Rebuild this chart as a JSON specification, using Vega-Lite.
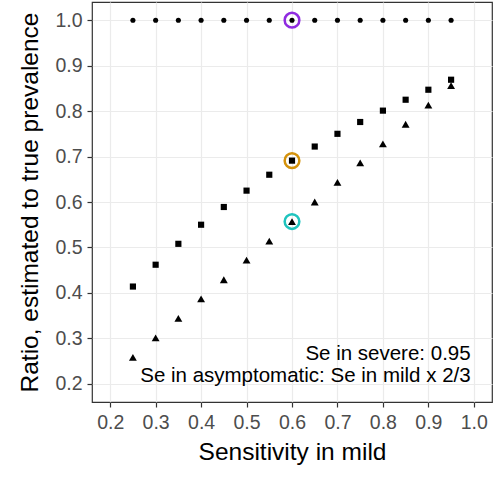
{
  "$schema": "https://vega.github.io/schema/vega-lite/v6.json",
  "width": 400,
  "height": 400,
  "autosize": {"type": "none"},
  "padding": {"left": 92, "top": 2, "right": 6, "bottom": 75},
  "background": "white",
  "config": {
    "view": {"stroke": "#333333", "strokeWidth": 1.2},
    "axis": {
      "grid": true,
      "gridColor": "#EBEBEB",
      "gridWidth": 1.2,
      "domain": false,
      "tickColor": "#333333",
      "tickSize": 5,
      "tickWidth": 1.2,
      "labelFont": "Liberation Sans",
      "labelFontSize": 19.5,
      "labelColor": "#4D4D4D",
      "titleFont": "Liberation Sans",
      "titleFontSize": 24.5,
      "titleFontWeight": "normal",
      "titleColor": "#000000"
    }
  },
  "datasets": {
    "pts": [
      {"x": 0.25, "y": 1.0, "series": "dot"},
      {"x": 0.30, "y": 1.0, "series": "dot"},
      {"x": 0.35, "y": 1.0, "series": "dot"},
      {"x": 0.40, "y": 1.0, "series": "dot"},
      {"x": 0.45, "y": 1.0, "series": "dot"},
      {"x": 0.50, "y": 1.0, "series": "dot"},
      {"x": 0.55, "y": 1.0, "series": "dot"},
      {"x": 0.60, "y": 1.0, "series": "dot"},
      {"x": 0.65, "y": 1.0, "series": "dot"},
      {"x": 0.70, "y": 1.0, "series": "dot"},
      {"x": 0.75, "y": 1.0, "series": "dot"},
      {"x": 0.80, "y": 1.0, "series": "dot"},
      {"x": 0.85, "y": 1.0, "series": "dot"},
      {"x": 0.90, "y": 1.0, "series": "dot"},
      {"x": 0.95, "y": 1.0, "series": "dot"},
      {"x": 0.25, "y": 0.414, "series": "square"},
      {"x": 0.30, "y": 0.462, "series": "square"},
      {"x": 0.35, "y": 0.508, "series": "square"},
      {"x": 0.40, "y": 0.550, "series": "square"},
      {"x": 0.45, "y": 0.589, "series": "square"},
      {"x": 0.50, "y": 0.625, "series": "square"},
      {"x": 0.55, "y": 0.660, "series": "square"},
      {"x": 0.60, "y": 0.691, "series": "square"},
      {"x": 0.65, "y": 0.722, "series": "square"},
      {"x": 0.70, "y": 0.750, "series": "square"},
      {"x": 0.75, "y": 0.776, "series": "square"},
      {"x": 0.80, "y": 0.801, "series": "square"},
      {"x": 0.85, "y": 0.825, "series": "square"},
      {"x": 0.90, "y": 0.847, "series": "square"},
      {"x": 0.95, "y": 0.869, "series": "square"},
      {"x": 0.25, "y": 0.258, "series": "triangle"},
      {"x": 0.30, "y": 0.301, "series": "triangle"},
      {"x": 0.35, "y": 0.344, "series": "triangle"},
      {"x": 0.40, "y": 0.387, "series": "triangle"},
      {"x": 0.45, "y": 0.429, "series": "triangle"},
      {"x": 0.50, "y": 0.472, "series": "triangle"},
      {"x": 0.55, "y": 0.514, "series": "triangle"},
      {"x": 0.60, "y": 0.557, "series": "triangle"},
      {"x": 0.65, "y": 0.600, "series": "triangle"},
      {"x": 0.70, "y": 0.643, "series": "triangle"},
      {"x": 0.75, "y": 0.686, "series": "triangle"},
      {"x": 0.80, "y": 0.728, "series": "triangle"},
      {"x": 0.85, "y": 0.771, "series": "triangle"},
      {"x": 0.90, "y": 0.813, "series": "triangle"},
      {"x": 0.95, "y": 0.856, "series": "triangle"}
    ],
    "highlights": [
      {"x": 0.6, "y": 1.0, "col": "a"},
      {"x": 0.6, "y": 0.691, "col": "b"},
      {"x": 0.6, "y": 0.557, "col": "c"}
    ],
    "notes": [
      {"x": 0.993, "y": 0.252, "label": "Se in severe: 0.95"},
      {"x": 0.993, "y": 0.203, "label": "Se in asymptomatic: Se in mild x 2/3"}
    ]
  },
  "encoding": {
    "x": {
      "field": "x",
      "type": "quantitative",
      "scale": {"domain": [0.16, 1.04], "nice": false, "zero": false},
      "axis": {
        "values": [0.2, 0.3, 0.4, 0.5, 0.6, 0.7, 0.8, 0.9, 1.0],
        "format": ".1f",
        "title": "Sensitivity in mild",
        "labelPadding": 6,
        "titlePadding": 9
      }
    },
    "y": {
      "field": "y",
      "type": "quantitative",
      "scale": {"domain": [0.16, 1.04], "nice": false, "zero": false},
      "axis": {
        "values": [0.2, 0.3, 0.4, 0.5, 0.6, 0.7, 0.8, 0.9, 1.0],
        "format": ".1f",
        "title": "Ratio, estimated to true prevalence",
        "labelPadding": 5,
        "titlePadding": 12
      }
    }
  },
  "layer": [
    {
      "data": {"name": "pts"},
      "transform": [{"filter": "datum.series === 'dot'"}],
      "mark": {"type": "point", "shape": "circle", "filled": true, "color": "#000000", "opacity": 1, "size": 26}
    },
    {
      "data": {"name": "pts"},
      "transform": [{"filter": "datum.series === 'square'"}],
      "mark": {"type": "point", "shape": "square", "filled": true, "color": "#000000", "opacity": 1, "size": 38}
    },
    {
      "data": {"name": "pts"},
      "transform": [{"filter": "datum.series === 'triangle'"}],
      "mark": {"type": "point", "shape": "triangle-up", "filled": true, "color": "#000000", "opacity": 1, "size": 62}
    },
    {
      "data": {"name": "highlights"},
      "mark": {"type": "point", "shape": "circle", "filled": false, "opacity": 1, "size": 215, "strokeWidth": 2.5},
      "encoding": {
        "color": {
          "field": "col",
          "type": "nominal",
          "scale": {"domain": ["a", "b", "c"], "range": ["#8F2BE0", "#D4920C", "#1FC4BE"]},
          "legend": null
        }
      }
    },
    {
      "data": {"name": "notes"},
      "mark": {"type": "text", "align": "right", "baseline": "alphabetic", "font": "Liberation Sans", "fontSize": 20.5, "color": "#000000"},
      "encoding": {"text": {"field": "label"}}
    }
  ]
}
